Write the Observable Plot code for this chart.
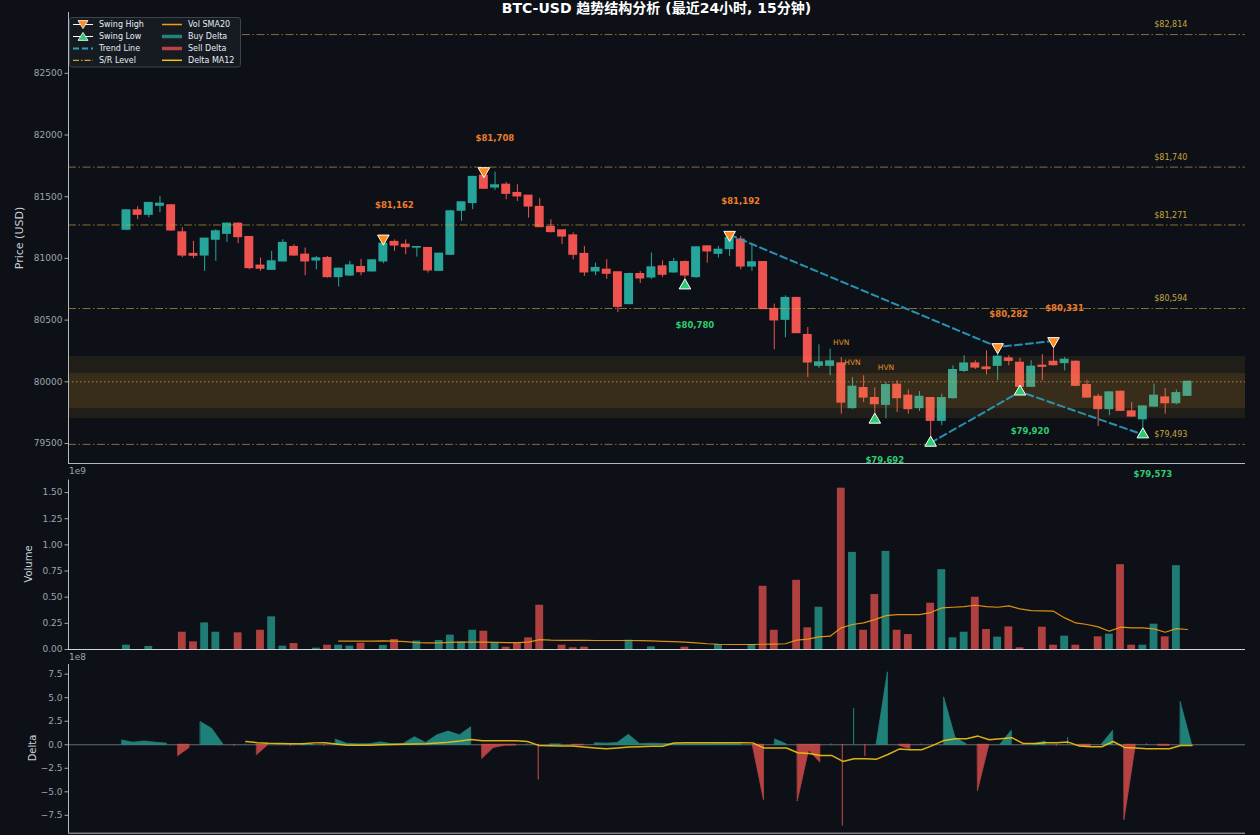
<!DOCTYPE html>
<html><head><meta charset="utf-8">
<script src="https://cdn.jsdelivr.net/npm/d3@7"></script>
<script src="https://cdn.jsdelivr.net/npm/@observablehq/plot@0.6"></script>
<style>
html,body{margin:0;padding:0;background:#0d1117;}
#wrap{position:relative;width:1260px;height:835px;overflow:hidden;background:#0d1117;font-family:"DejaVu Sans","Noto Sans CJK SC",sans-serif;}
.panel{position:absolute;left:0;width:1260px;}
.panel svg{overflow:visible;display:block;}
.ylab{position:absolute;color:#c9d1d9;white-space:nowrap;transform:translate(-50%,-50%) rotate(-90deg);}
.off{position:absolute;color:#9ea4ab;font-size:9px;line-height:10px;}
#title{position:absolute;left:68px;width:1177px;top:1px;line-height:15px;text-align:center;color:#fff;font-weight:bold;font-size:14px;font-family:"DejaVu Sans","Noto Sans CJK SC",sans-serif;}
#legend{position:absolute;left:69px;top:17px;}
</style></head>
<body>
<div id="wrap">
  <div id="p1" class="panel" style="top:0px"></div>
  <div id="p2" class="panel" style="top:460px"></div>
  <div id="p3" class="panel" style="top:645px"></div>
  <div id="title">BTC-USD 趋势结构分析 (最近24小时, 15分钟)</div>
  <div class="ylab" style="left:19px;top:238px;font-size:11px">Price (USD)</div>
  <div class="ylab" style="left:28px;top:564px;font-size:10px">Volume</div>
  <div class="ylab" style="left:32px;top:748px;font-size:10px">Delta</div>
  <div class="off" style="left:69px;top:466px">1e9</div>
  <div class="off" style="left:69px;top:652px">1e8</div>
  <svg id="legend" width="173" height="51" xmlns="http://www.w3.org/2000/svg" font-family="DejaVu Sans" font-size="8" fill="#e6edf3">
    <rect x="0.5" y="0.5" width="171" height="49.5" rx="2.5" fill="#161b22" stroke="#3d444d" stroke-width="1"/>
    <line x1="4" y1="7.5" x2="24" y2="7.5" stroke="#ffffff" stroke-width="1"/>
    <path d="M9,3.6 L19,3.6 L14,11.6 Z" fill="#ff8c1a" stroke="#ffffff" stroke-width="0.8"/>
    <text x="30" y="10.3">Swing High</text>
    <line x1="4" y1="19.5" x2="24" y2="19.5" stroke="#ffffff" stroke-width="1"/>
    <path d="M9,23.4 L19,23.4 L14,15.4 Z" fill="#2ecc71" stroke="#ffffff" stroke-width="0.8"/>
    <text x="30" y="22.3">Swing Low</text>
    <line x1="4" y1="31.5" x2="24" y2="31.5" stroke="#2b9fc0" stroke-width="2" stroke-dasharray="6,3"/>
    <text x="30" y="34.3">Trend Line</text>
    <line x1="4" y1="43.3" x2="24" y2="43.3" stroke="#c9a43a" stroke-width="1.2" stroke-dasharray="6,2,1.5,2"/>
    <text x="30" y="46">S/R Level</text>
    <line x1="93" y1="7.5" x2="113" y2="7.5" stroke="#f39c12" stroke-width="1.5"/>
    <text x="119" y="10.3">Vol SMA20</text>
    <line x1="93" y1="19.5" x2="113" y2="19.5" stroke="#26a69a" stroke-width="3.5" opacity="0.75"/>
    <text x="119" y="22.3">Buy Delta</text>
    <line x1="93" y1="31.5" x2="113" y2="31.5" stroke="#ef5350" stroke-width="3.5" opacity="0.75"/>
    <text x="119" y="34.3">Sell Delta</text>
    <line x1="93" y1="43.3" x2="113" y2="43.3" stroke="#f1c40f" stroke-width="1.5"/>
    <text x="119" y="46">Delta MA12</text>
  </svg>
</div>
<script>
// ---------------- DATA (15-minute candles, index 0..95) ----------------
const open = [
  81233,81389,81354,81427,81430,81211,81036,81024,81152,81200,
  81281,81173,80941,80908,80976,81092,81030,80984,81003,80849,
  80862,80930,80895,80976,81133,81111,81088,81084,80900,81030,
  81387,81449,81670,81575,81597,81530,81508,81417,81254,81227,
  81186,81036,80895,80908,80887,80630,80873,80846,80935,80887,
  80970,80849,81097,81038,81076,81152,80935,80970,80590,80503,
  80679,80379,80130,80130,80149,79787,79949,79868,79814,79976,
  79887,79787,79868,79684,79868,80089,80148,80116,80130,80189,
  80154,79960,80130,80162,80152,80162,79973,79878,79779,79919,
  79760,79697,79800,79873,79827,79887];
const high = [
  81395,81419,81454,81502,81435,81249,81138,81160,81233,81287,
  81287,81173,81003,81057,81152,81111,81084,81016,81016,80922,
  80976,80992,80990,81162,81150,81150,81095,81088,81040,81390,
  81454,81665,81708,81700,81616,81597,81508,81484,81314,81227,
  81206,81097,80962,80989,80887,80880,80894,81044,80980,81000,
  80980,81095,81103,81097,81192,81178,81111,80975,80630,80697,
  80685,80440,80300,80265,80197,80035,80049,79951,79995,80008,
  79933,79922,79873,79900,80130,80211,80170,80251,80282,80211,
  80190,80170,80219,80331,80197,80170,80013,79900,79918,79925,
  79833,79805,79981,79946,79933,80005];
const low = [
  81225,81314,81330,81370,81220,81006,80998,80895,80976,81130,
  81119,80908,80895,80908,80976,81016,80860,80908,80841,80769,
  80854,80860,80890,80957,81057,81030,81010,80881,80895,81025,
  81300,81395,81560,81551,81476,81462,81327,81254,81206,81111,
  80989,80854,80860,80830,80562,80625,80797,80830,80846,80880,
  80780,80840,80962,81003,81016,80908,80895,80585,80260,80357,
  80390,80035,80110,80049,79738,79778,79832,79692,79700,79752,
  79738,79760,79505,79644,79860,80075,80100,80057,80008,80130,
  79920,79955,80008,80130,80089,79960,79870,79638,79725,79760,
  79715,79573,79792,79738,79814,79885];
const close = [
  81389,81354,81449,81443,81227,81024,81022,81160,81219,81281,
  81173,80922,80917,80976,81125,81024,80976,81000,80849,80916,
  80943,80889,80984,81119,81105,81092,81092,80903,81038,81381,
  81454,81660,81565,81592,81524,81503,81421,81254,81214,81178,
  81030,80887,80922,80876,80608,80873,80838,80927,80868,80970,
  80862,81089,81057,81070,81165,80935,80968,80590,80498,80679,
  80395,80157,80157,80165,79832,79960,79873,79819,79973,79868,
  79779,79878,79684,79868,80095,80148,80116,80103,80203,80170,
  79960,80122,80122,80135,80178,79968,79873,79779,79914,79765,
  79719,79800,79887,79827,79908,80000];
// volume, in units of 1e9
const volume = [
  0.041,0,0.029,0,0,0.165,0.073,0.254,0.165,0,
  0.159,0,0.184,0.312,0.032,0.057,0,0.013,0.041,0.041,
  0.032,0.06,0,0.038,0.095,0,0.08,0,0.086,0.137,
  0.073,0.184,0.175,0.06,0.022,0.06,0.111,0.423,0,0.041,
  0.016,0.022,0,0,0,0.089,0,0.025,0,0,
  0.022,0,0,0.048,0,0,0.048,0.604,0.184,0,
  0.661,0.207,0.404,0,1.542,0.928,0.184,0.525,0.938,0.184,
  0.143,0,0.442,0.763,0.111,0.165,0.499,0.191,0.118,0.216,
  0.016,0,0.213,0.041,0.127,0.041,0,0.121,0.146,0.811,
  0.041,0.041,0.242,0.121,0.801,0];
// Vol SMA20 (1e9), from candle 19 onwards
const volSmaStart = 19;
const volSma20 = [
  0.08,0.08,0.08,0.08,0.082,0.08,0.075,0.066,0.064,0.064,
  0.068,0.07,0.07,0.07,0.068,0.066,0.066,0.07,0.095,
  0.09,0.088,0.088,0.088,0.086,0.086,0.086,0.086,0.085,0.082,
  0.078,0.075,0.07,0.063,0.055,0.05,0.048,0.048,0.048,
  0.05,0.052,0.055,0.09,0.1,0.12,0.127,
  0.207,0.239,0.254,0.286,0.324,0.334,0.334,
  0.334,0.353,0.398,0.404,0.41,0.423,0.41,
  0.404,0.417,0.388,0.372,0.369,0.366,0.302,
  0.254,0.239,0.216,0.175,0.213,0.207,0.207,0.197,0.165,0.2,0.191];
// order-flow delta, in units of 1e8
const delta = [
  0.45,0.22,0.35,0.22,0.12,-1.2,-0.35,2.4,1.7,0.02,
  -0.1,0.03,-1.1,-0.02,0.05,-0.1,0.03,0.04,-0.08,0.53,
  0.1,0.04,0.05,0.25,0.05,0.08,0.8,0.2,1.0,1.4,
  1.0,1.85,-1.5,-0.35,-0.1,-0.08,0.03,-3.7,0.02,0.02,
  -0.06,-0.06,0.15,0.12,0.18,1.06,0.05,0.12,0.08,0.05,
  0.03,0.04,0.03,0.05,0.04,0.02,-0.03,-5.9,0.56,0.05,
  -6.0,-0.6,-1.9,0.03,-8.6,3.8,-1.2,0.02,7.7,-0.1,
  -0.45,0.02,-0.05,5.0,0.75,0.05,-4.9,-0.05,0.02,1.5,
  -0.02,0.03,0.35,-0.1,0.7,-0.15,-0.2,0.02,1.5,-8.0,
  -0.2,0.05,-0.1,-0.12,4.5,0.02];
// Delta MA12 (1e8), from candle 11 onwards
const deltaMaStart = 11;
const deltaMa12 = [
  0.35,0.22,0.15,0.14,0.12,0.11,0.2,0.22,0.08,-0.05,
  -0.05,-0.05,0.0,0.03,0.05,0.07,0.1,0.18,0.27,0.4,
  0.57,0.43,0.43,0.43,0.43,0.35,-0.07,-0.1,-0.12,-0.14,
  -0.25,-0.35,-0.43,-0.35,-0.25,-0.2,-0.16,-0.15,0.18,0.21,
  0.21,0.21,0.21,0.21,0.21,0.2,-0.35,-0.35,-0.35,-0.85,
  -0.92,-1.13,-1.13,-1.77,-1.49,-1.5,-1.53,-1.03,-0.46,-0.53,
  -0.53,-0.07,0.46,0.64,0.64,0.92,0.53,0.64,0.75,0.14,
  0.14,0.21,0.21,0.28,-0.14,-0.21,-0.21,0.35,-0.28,-0.35,
  -0.43,-0.43,-0.43,-0.07,-0.07];
const swingHighIdx = [23, 32, 54, 78, 83];
const swingHighPrice = [81162, 81708, 81192, 80282, 80331];
const swingLowIdx = [50, 67, 72, 80, 91];
const swingLowPrice = [80780, 79692, 79505, 79920, 79573];
const srLevels = [82814, 81740, 81271, 80594, 79493];
const hvnZoneOuter = [79702, 80205];
const hvnZoneInner = [79784, 80067];
const pocLevel = 80000;
const hvnIdx = [64, 65, 68];
const priceTicks = [79500, 80000, 80500, 81000, 81500, 82000, 82500];
const volTicks = [0, 0.25, 0.5, 0.75, 1.0, 1.25, 1.5];
const deltaTicks = [-7.5, -5.0, -2.5, 0.0, 2.5, 5.0, 7.5];

// ---------------- STYLE ----------------
const BG = "#0d1117", GREEN = "#26a69a", RED = "#ef5350";
const TICK = "#9ea4ab", SPINE = "#b4b9bf";
const baseStyle = {background: "transparent", color: TICK, fontFamily: "DejaVu Sans", fontSize: "9px", overflow: "visible"};
const fmt = d3.format(",");

const candles = open.map((o, i) => ({i, o, h: high[i], l: low[i], c: close[i], v: volume[i], d: delta[i]}));
const col = d => d.c >= d.o ? GREEN : RED;
const highs = swingHighIdx.map((i, k) => ({i, p: swingHighPrice[k]}));
const lows = swingLowIdx.map((i, k) => ({i, p: swingLowPrice[k]}));
const smaData = volSma20.map((v, k) => ({i: k + volSmaStart, v}));
const maData = deltaMa12.map((v, k) => ({i: k + deltaMaStart, v}));

const triDown = {draw(ctx, size) {
  const y = -Math.sqrt(size / (Math.sqrt(3) * 3));
  ctx.moveTo(0, -2 * y); ctx.lineTo(-Math.sqrt(3) * y, y); ctx.lineTo(Math.sqrt(3) * y, y); ctx.closePath();
}};

const xP = [-5.19, 100.19];
const yP = [79338, 82993];

const price = Plot.plot({
  width: 1260, height: 470, marginLeft: 68, marginRight: 15, marginTop: 12, marginBottom: 7,
  x: {domain: xP, axis: null},
  y: {domain: yP},
  color: {type: "identity"},
  style: baseStyle,
  marks: [
    Plot.ruleX(candles, {x: "i", y1: "l", y2: "h", stroke: col, strokeWidth: 1}),
    Plot.rect(candles, {x1: d => d.i - 0.4, x2: d => d.i + 0.4, y1: d => Math.min(d.o, d.c), y2: d => Math.max(d.o, d.c), fill: col, insetTop: -0.6, insetBottom: -0.6}),
    Plot.rect([hvnZoneOuter], {x1: () => xP[0], x2: () => xP[1], y1: d => d[0], y2: d => d[1], fill: "#e8a33a", fillOpacity: 0.09}),
    Plot.rect([hvnZoneInner], {x1: () => xP[0], x2: () => xP[1], y1: d => d[0], y2: d => d[1], fill: "#e8902a", fillOpacity: 0.12}),
    Plot.ruleY([pocLevel], {stroke: "#e0a060", strokeOpacity: 0.75, strokeDasharray: "1.5,2.5", strokeWidth: 1}),
    Plot.ruleY(srLevels, {y: d => d, stroke: "#c9a43a", strokeOpacity: 0.65, strokeWidth: 1, strokeDasharray: "8,2.5,1.5,2.5"}),
    Plot.text(srLevels, {x: () => 93.5, y: d => d, text: d => "$" + fmt(d), dy: -10, fill: "#c9a43a", fontSize: 8}),
    Plot.text(hvnIdx, {x: i => i, y: i => high[i], text: () => "HVN", dy: -15, fill: "#e0902a", fontSize: 7.5}),
    Plot.line(highs.slice(-3), {x: "i", y: "p", stroke: "#2b9fc0", strokeWidth: 2, strokeDasharray: "7,4", strokeOpacity: 0.9}),
    Plot.line(lows.slice(-3), {x: "i", y: "p", stroke: "#2b9fc0", strokeWidth: 2, strokeDasharray: "7,4", strokeOpacity: 0.9}),
    Plot.dot(highs, {x: "i", y: "p", symbol: triDown, r: 4.3, fill: "#ff8c1a", stroke: "#ffffff", strokeWidth: 1}),
    Plot.dot(lows, {x: "i", y: "p", symbol: "triangle", r: 4.3, fill: "#2ecc71", stroke: "#ffffff", strokeWidth: 1}),
    Plot.text(highs, {x: "i", y: "p", text: d => "$" + fmt(d.p), dx: 11, dy: -33, fill: "#ee7d2c", fontWeight: "bold", fontSize: 8.5}),
    // the label of the lowest swing low falls behind the volume panel in the reference, so it is not drawn
    Plot.text(lows, {filter: d => d.p > 79540, x: "i", y: "p", text: d => "$" + fmt(d.p), dx: 10, dy: 40, fill: "#2ecc71", fontWeight: "bold", fontSize: 8.5}),
    Plot.axisY({ticks: priceTicks, tickFormat: d => String(d), tickSize: 3.5, tickPadding: 2.5, fontSize: 9, color: TICK, label: null}),
    Plot.ruleX([xP[0]], {stroke: SPINE, strokeWidth: 1}),
    Plot.ruleY([yP[0]], {stroke: SPINE, strokeWidth: 1})
  ]
});
document.getElementById("p1").appendChild(price);

const vol = Plot.plot({
  width: 1260, height: 190, marginLeft: 68, marginRight: 15, marginTop: 19.5, marginBottom: 1,
  x: {domain: xP, axis: null},
  y: {domain: [0, 1.62]},
  color: {type: "identity"},
  style: baseStyle,
  marks: [
    Plot.frame({fill: BG, stroke: "none"}),
    Plot.rect(candles, {x1: d => d.i - 0.35, x2: d => d.i + 0.35, y1: () => 0, y2: "v", fill: col, fillOpacity: 0.72}),
    Plot.line(smaData, {x: "i", y: "v", stroke: "#f39c12", strokeWidth: 1.2, strokeOpacity: 0.9}),
    Plot.axisY({ticks: volTicks, tickFormat: d => d.toFixed(2), tickSize: 3.5, tickPadding: 2.5, fontSize: 9, color: TICK, label: null}),
    Plot.ruleX([xP[0]], {stroke: SPINE, strokeWidth: 1}),
    Plot.ruleY([0], {stroke: "#d0d4d8", strokeWidth: 1.2})
  ]
});
document.getElementById("p2").appendChild(vol);

const xD = [-4.75, 99.75];
const yD = [-9.4, 8.53];
const del = Plot.plot({
  width: 1260, height: 190, marginLeft: 68, marginRight: 15, marginTop: 19, marginBottom: 2.3,
  x: {domain: xD, axis: null},
  y: {domain: yD},
  style: baseStyle,
  marks: [
    Plot.frame({fill: BG, stroke: "none"}),
    Plot.ruleY([0], {stroke: "#c9d1d9", strokeWidth: 0.7, strokeOpacity: 0.65}),
    Plot.areaY(candles, {x: "i", y1: () => 0, y2: d => d.d >= 0 ? d.d : NaN, fill: GREEN, stroke: GREEN, strokeWidth: 0.8, opacity: 0.75}),
    Plot.areaY(candles, {x: "i", y1: () => 0, y2: d => d.d < 0 ? d.d : NaN, fill: RED, stroke: RED, strokeWidth: 0.8, opacity: 0.75}),
    Plot.line(maData, {x: "i", y: "v", stroke: "#f1c40f", strokeWidth: 1.5, strokeOpacity: 0.9}),
    Plot.axisY({ticks: deltaTicks, tickFormat: d => d.toFixed(1).replace("-", "\u2212"), tickSize: 3.5, tickPadding: 2.5, fontSize: 9, color: TICK, label: null}),
    Plot.ruleX([xD[0]], {stroke: SPINE, strokeWidth: 1}),
    Plot.ruleY([yD[0]], {stroke: SPINE, strokeWidth: 1})
  ]
});
document.getElementById("p3").appendChild(del);
</script>
</body></html>
